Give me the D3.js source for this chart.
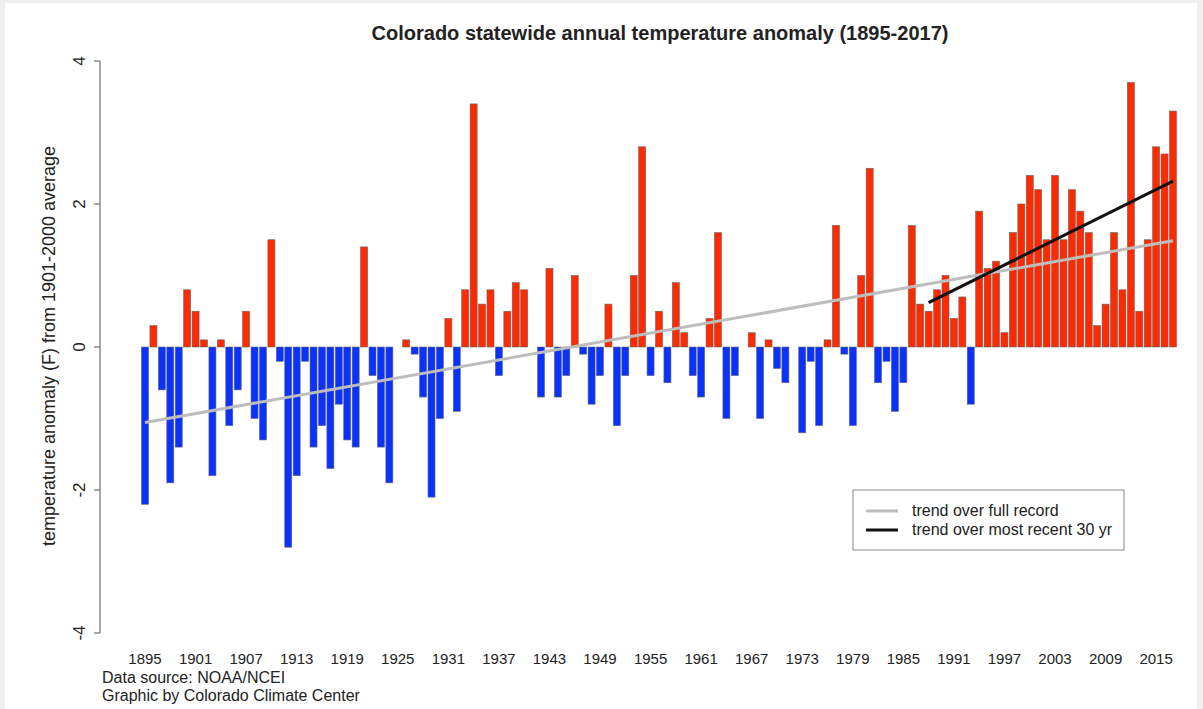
<!DOCTYPE html>
<html>
<head>
<meta charset="utf-8">
<script src="https://cdn.jsdelivr.net/npm/d3@7"></script>
<style>
  body { margin: 0; background: #efefef; }
  svg { display: block; }
  text { font-family: "Liberation Sans", Arial, sans-serif; fill: #222; }
</style>
</head>
<body>
<script>
// annual anomaly (F) from 1901-2000 average
const firstYear = 1895
const lastYear = 2017
const anomalies = [
  -2.2, 0.3, -0.6, -1.9, -1.4, 0.8, 0.5, 0.1, -1.8, 0.1,    // 1895-1904
  -1.1, -0.6, 0.5, -1.0, -1.3, 1.5, -0.2, -2.8, -1.8, -0.2, // 1905-1914
  -1.4, -1.1, -1.7, -0.8, -1.3, -1.4, 1.4, -0.4, -1.4, -1.9, // 1915-1924
  0.0, 0.1, -0.1, -0.7, -2.1, -1.0, 0.4, -0.9, 0.8, 3.4,    // 1925-1934
  0.6, 0.8, -0.4, 0.5, 0.9, 0.8, 0.0, -0.7, 1.1, -0.7,      // 1935-1944
  -0.4, 1.0, -0.1, -0.8, -0.4, 0.6, -1.1, -0.4, 1.0, 2.8,   // 1945-1954
  -0.4, 0.5, -0.5, 0.9, 0.2, -0.4, -0.7, 0.4, 1.6, -1.0,    // 1955-1964
  -0.4, 0.0, 0.2, -1.0, 0.1, -0.3, -0.5, 0.0, -1.2, -0.2,   // 1965-1974
  -1.1, 0.1, 1.7, -0.1, -1.1, 1.0, 2.5, -0.5, -0.2, -0.9,   // 1975-1984
  -0.5, 1.7, 0.6, 0.5, 0.8, 1.0, 0.4, 0.7, -0.8, 1.9,       // 1985-1994
  1.1, 1.2, 0.2, 1.6, 2.0, 2.4, 2.2, 1.5, 2.4, 1.5,         // 1995-2004
  2.2, 1.9, 1.6, 0.3, 0.6, 1.6, 0.8, 3.7, 0.5, 1.5,         // 2005-2014
  2.8, 2.7, 3.3                                             // 2015-2017
]
const years = d3.range(firstYear, lastYear + 1)
const yTicks = [-4, -2, 0, 2, 4]
const xLabelYears = d3.range(1895, 2018, 6)
const legendLabels = ['trend over full record', 'trend over most recent 30 yr']

const m = { width: 1203, height: 709 }

const svg = d3.select('body').append('svg')
    .attr('width', m.width)
    .attr('height', m.height)

svg.append('rect')
    .attr('x', 5).attr('y', 3)
    .attr('width', 1192).attr('height', 706)
    .attr('fill', '#fff')

const x = d3.scaleBand()
    .domain(years)
    .range([140.8, 1177.2])
    .paddingInner(0.2 / 1.2)
    .paddingOuter(0.1 / 1.2)

const y = d3.scaleLinear()
    .domain([-4, 4])
    .range([633, 61])

const xc = yr => x(yr) + x.bandwidth() / 2

// least squares fit over a span of years
function fit(yrs, vals) {
    const mx = d3.mean(yrs), my = d3.mean(vals)
    let num = 0, den = 0
    yrs.forEach((v, i) => { num += (v - mx) * (vals[i] - my); den += (v - mx) * (v - mx) })
    const b = num / den
    return yr => my + b * (yr - mx)
}

// bars
svg.append('g').selectAll('rect')
    .data(years.map((yr, i) => ({ yr: yr, v: anomalies[i] })))
    .enter()
    .append('rect')
        .attr('x', d => x(d.yr))
        .attr('width', x.bandwidth())
        .attr('y', d => y(Math.max(0, d.v)))
        .attr('height', d => Math.abs(y(d.v) - y(0)))
        .attr('fill', d => d.v > 0 ? '#ff2a00' : '#0a32ff')
        .attr('stroke', '#666')
        .attr('stroke-width', 0.6)

// trend lines
const fullFit = fit(years, anomalies)
const recentYears = years.slice(-30)
const recentFit = fit(recentYears, anomalies.slice(-30))

const line = d3.line().x(d => xc(d[0])).y(d => y(d[1]))

svg.append('path')
    .attr('d', line([[firstYear, fullFit(firstYear)], [lastYear, fullFit(lastYear)]]))
    .attr('stroke', '#bdbdbd')
    .attr('stroke-width', 3)
    .attr('fill', 'none')

svg.append('path')
    .attr('d', line([[recentYears[0], recentFit(recentYears[0])], [lastYear, recentFit(lastYear)]]))
    .attr('stroke', '#111')
    .attr('stroke-width', 3)
    .attr('fill', 'none')

// y axis
const yAxis = svg.append('g')
yAxis.append('line')
    .attr('x1', 100).attr('x2', 100)
    .attr('y1', y(4)).attr('y2', y(-4))
    .attr('stroke', '#555')
yAxis.selectAll('.tick')
    .data(yTicks)
    .enter()
    .append('line')
        .attr('x1', 94).attr('x2', 100)
        .attr('y1', d => y(d)).attr('y2', d => y(d))
        .attr('stroke', '#555')
yAxis.selectAll('.lab')
    .data(yTicks)
    .enter()
    .append('text')
        .attr('transform', d => `translate(85,${y(d)}) rotate(-90)`)
        .attr('text-anchor', 'middle')
        .style('font-size', '17px')
        .text(d => d)

svg.append('text')
    .attr('transform', 'translate(55,346) rotate(-90)')
    .attr('text-anchor', 'middle')
    .style('font-size', '18px')
    .text('temperature anomaly (F) from 1901-2000 average')

// x labels
svg.append('g').selectAll('text')
    .data(xLabelYears)
    .enter()
    .append('text')
        .attr('x', d => xc(d))
        .attr('y', 664)
        .attr('text-anchor', 'middle')
        .style('font-size', '15px')
        .text(d => d)

// title and notes
svg.append('text')
    .attr('x', 660).attr('y', 40)
    .attr('text-anchor', 'middle')
    .style('font-size', '20px')
    .style('font-weight', 'bold')
    .text('Colorado statewide annual temperature anomaly (1895-2017)')

svg.append('text')
    .attr('x', 102).attr('y', 683)
    .style('font-size', '16px')
    .text('Data source: NOAA/NCEI')
svg.append('text')
    .attr('x', 102).attr('y', 701)
    .style('font-size', '16px')
    .text('Graphic by Colorado Climate Center')

// legend
const lg = svg.append('g')
lg.append('rect')
    .attr('x', 853).attr('y', 490)
    .attr('width', 271).attr('height', 60)
    .attr('fill', '#fff')
    .attr('stroke', '#888')
lg.selectAll('line')
    .data(legendLabels)
    .enter()
    .append('line')
        .attr('x1', 866).attr('x2', 898)
        .attr('y1', (d, i) => 511 + i * 19).attr('y2', (d, i) => 511 + i * 19)
        .attr('stroke', (d, i) => i === 0 ? '#bdbdbd' : '#111')
        .attr('stroke-width', 3)
lg.selectAll('text')
    .data(legendLabels)
    .enter()
    .append('text')
        .attr('x', 912)
        .attr('y', (d, i) => 516 + i * 19)
        .style('font-size', '16px')
        .text(d => d)
</script>
</body>
</html>
